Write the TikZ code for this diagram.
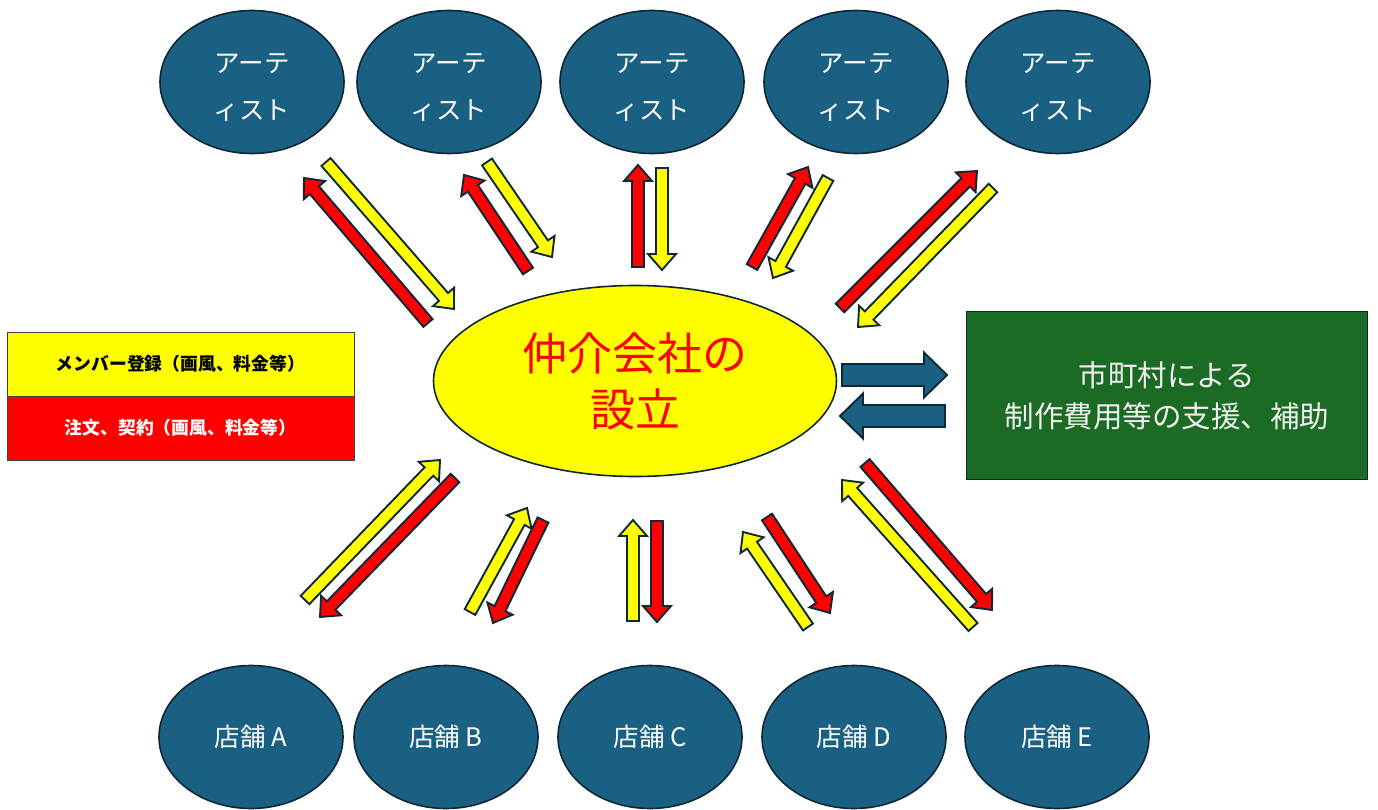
\documentclass[tikz,border=0pt]{standalone}
\usepackage{fontspec}
\setmainfont{Noto Sans CJK JP}
\usetikzlibrary{calc,shapes.geometric}

\definecolor{edge}{HTML}{0E2838}
\definecolor{nodeblue}{HTML}{1A6083}
\definecolor{govgreen}{HTML}{1C6B24}
\definecolor{hiyellow}{HTML}{FFFF00}
\definecolor{hired}{HTML}{FF0000}

\tikzset{
  blob/.style={ellipse, draw=edge, line width=1.6pt, fill=nodeblue,
    minimum width=184pt, minimum height=143pt, inner sep=0pt},
  blobtext/.style={text=white, align=center, inner sep=0pt,
    font=\fontsize{25.5}{47}\selectfont},
  shoptext/.style={ellipse, draw=edge, line width=1.6pt, fill=nodeblue,
    minimum width=184pt, minimum height=143pt, inner sep=0pt,
    text=white, font=\fontsize{25.5}{30}\selectfont},
  hub/.style={ellipse, draw=edge, line width=1.6pt, fill=hiyellow,
    minimum width=403pt, minimum height=191pt, inner sep=0pt,
    text=hired, align=center, font=\fontsize{45}{56}\selectfont},
  govbox/.style={rectangle, draw=edge, line width=1.8pt, fill=govgreen,
    minimum width=401pt, minimum height=168pt, inner sep=0pt,
    text=white!94!black, align=center, font=\fontsize{29.5}{41}\selectfont},
  keybox/.style={rectangle, draw=black!75, line width=0.8pt,
    minimum width=347pt, minimum height=64pt, inner sep=0pt,
    font=\fontsize{17.8}{20}\selectfont\bfseries},
  arrowline/.style={draw=edge, line width=1.9pt, line join=miter},
}

% block arrow: fill, tail, tip, half shaft width, half head width, head length
\newcommand\blockarrow[6]{%
  \coordinate (ba-base) at ($(#3)!#6!(#2)$);
  \draw[arrowline, fill=#1]
    ($(#2)!#4!90:(#3)$) -- ($(ba-base)!#4!-90:(#2)$) -- ($(ba-base)!#5!-90:(#2)$)
    -- (#3) -- ($(ba-base)!#5!90:(#2)$) -- ($(ba-base)!#4!90:(#2)$)
    -- ($(#2)!#4!-90:(#3)$) -- cycle;}
\newcommand\slimarrow[3]{\blockarrow{#1}{#2}{#3}{6pt}{14pt}{16pt}}

\begin{document}
\begin{tikzpicture}[x=1pt, y=-1pt]
\useasboundingbox (0,0) rectangle (1378,810);

% artists along the top
\foreach \i/\x in {1/252, 2/449, 3/652, 4/856, 5/1058} {
  \node[blob] (art\i) at (\x,82) {};
  \node[blobtext] (art\i t) at ($(art\i.center)+(0,6)$) {アーテ\\ィスト};
}

% shops along the bottom
\foreach \i/\x/\l in {1/251/A, 2/446/B, 3/650/C, 4/854/D, 5/1057/E} {
  \node[shoptext] (shop\i) at (\x,737) {店舗 \l};
}

% central agency
\node[hub] (hub) at (635,381) {仲介会社の\\設立};

% municipal support
\node[govbox] (gov) at (1167,395.5) {市町村による\\制作費用等の支援、補助};

% legend
\node[keybox, fill=hiyellow, text=black] (keyy) at (180.5,364) {メンバー登録（画風、料金等）};
\node[keybox, fill=hired, text=white] (keyr) at (180.5,428) {注文、契約（画風、料金等）};

% arrow end points
\coordinate (t1y-s) at (326,162); \coordinate (t1y-e) at (454,309);
\coordinate (t1r-s) at (428,323); \coordinate (t1r-e) at (304,178);
\coordinate (t2y-s) at (487,162); \coordinate (t2y-e) at (552,257);
\coordinate (t2r-s) at (528,271); \coordinate (t2r-e) at (464,175);
\coordinate (t3r-s) at (638,267); \coordinate (t3r-e) at (638,165);
\coordinate (t3y-s) at (662,168); \coordinate (t3y-e) at (662,270);
\coordinate (t4r-s) at (752,267); \coordinate (t4r-e) at (808,167);
\coordinate (t4y-s) at (828,178); \coordinate (t4y-e) at (773,278);
\coordinate (t5r-s) at (840,308); \coordinate (t5r-e) at (977,171);
\coordinate (t5y-s) at (993,188); \coordinate (t5y-e) at (858,327);

\coordinate (b1y-s) at (305,600); \coordinate (b1y-e) at (440,460);
\coordinate (b1r-s) at (455,478); \coordinate (b1r-e) at (320,617);
\coordinate (b2y-s) at (470,612); \coordinate (b2y-e) at (527,508);
\coordinate (b2r-s) at (543,520); \coordinate (b2r-e) at (493,623);
\coordinate (b3y-s) at (633,621); \coordinate (b3y-e) at (633,520);
\coordinate (b3r-s) at (657,521); \coordinate (b3r-e) at (657,622);
\coordinate (b4y-s) at (808,627); \coordinate (b4y-e) at (743,532);
\coordinate (b4r-s) at (767,517); \coordinate (b4r-e) at (830,613);
\coordinate (b5y-s) at (973,627); \coordinate (b5y-e) at (842,480);
\coordinate (b5r-s) at (865,463); \coordinate (b5r-e) at (992,610);

\coordinate (gr-s) at (842,375); \coordinate (gr-e) at (947,375);
\coordinate (gl-s) at (945,416); \coordinate (gl-e) at (840,416);

% membership (yellow) and order (red) flows
\foreach \pr in {t1,t2,t3,t4,t5,b1,b2,b3,b4,b5} {
  \slimarrow{hired}{\pr r-s}{\pr r-e}
  \slimarrow{hiyellow}{\pr y-s}{\pr y-e}
}

% exchange with the municipality
\blockarrow{nodeblue}{gr-s}{gr-e}{11pt}{22.5pt}{23pt}
\blockarrow{nodeblue}{gl-s}{gl-e}{11pt}{22.5pt}{23pt}
\end{tikzpicture}
\end{document}
